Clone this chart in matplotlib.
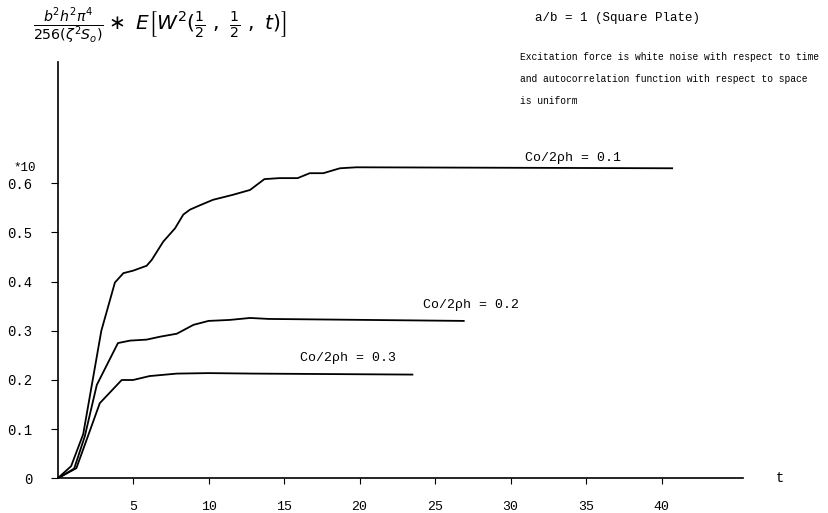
import matplotlib
matplotlib.use("Agg")
import matplotlib.pyplot as plt

# Data
t_01 = [0, 0.9, 1.7, 2.9, 3.8, 4.36, 5.0, 5.9, 6.24, 7.0, 7.78, 8.33, 8.77, 9.44,
        10.3, 11.6, 12.75, 13.7, 14.7, 15.9, 16.7, 17.6, 18.7, 19.8, 40.7]
v_01 = [0, 0.025, 0.09, 0.30, 0.398, 0.417, 0.422, 0.432, 0.444, 0.481, 0.508, 0.536,
        0.546, 0.555, 0.566, 0.576, 0.586, 0.608, 0.61, 0.61, 0.62, 0.62, 0.63, 0.632, 0.63]

t_02 = [0, 1.1, 1.8, 2.6, 4.0, 4.8, 5.9, 6.8, 7.9, 9.0, 10.0, 11.4, 12.75, 14.0, 26.9]
v_02 = [0, 0.02, 0.085, 0.19, 0.275, 0.28, 0.282, 0.288, 0.294, 0.312, 0.32, 0.322,
        0.326, 0.324, 0.32]

t_03 = [0, 1.25, 2.8, 4.25, 5.0, 6.1, 7.9, 10.0, 13.0, 23.5]
v_03 = [0, 0.021, 0.153, 0.2, 0.2, 0.208, 0.213, 0.214, 0.213, 0.211]

x_ticks = [5, 10, 15, 20, 25, 30, 35, 40]
y_ticks = [0, 0.1, 0.2, 0.3, 0.4, 0.5, 0.6]
y_tick_labels = ["0", "0.1", "0.2", "0.3", "0.4", "0.5", "0.6"]
curve_labels = ["Co/2ρh = 0.1", "Co/2ρh = 0.2", "Co/2ρh = 0.3"]

mono = ["Liberation Mono", "DejaVu Sans Mono"]
W, H = 829, 513

fig = plt.figure(figsize=(8.29, 5.13), dpi=100)
ax = fig.add_axes([0.0694, 0.0673, 0.827, 0.812])

for t, v in [(t_01, v_01), (t_02, v_02), (t_03, v_03)]:
    ax.plot(t, v, color="black", lw=1.3, solid_joinstyle="round")

ax.set_xlim(0, 45.4)
ax.set_ylim(0, 0.846)
for s in ["top", "right"]:
    ax.spines[s].set_visible(False)
for s in ["left", "bottom"]:
    ax.spines[s].set_linewidth(1.2)

ax.set_xticks(x_ticks)
ax.set_xticklabels([str(x) for x in x_ticks], fontfamily=mono, fontsize=9.5)
ax.set_yticks(y_ticks)
ax.set_yticklabels(y_tick_labels, fontfamily=mono, fontsize=10)
ax.tick_params(axis="x", direction="out", length=4, pad=12)
ax.tick_params(axis="y", direction="out", length=5, pad=13)


def ftext(x, y, s, **kw):
    fig.text(x / W, 1 - y / H, s, **kw)


# curve annotations
ftext(525, 158, curve_labels[0], fontfamily=mono, fontsize=9.5, va="center", ha="left")
ftext(423, 305, curve_labels[1], fontfamily=mono, fontsize=9.5, va="center", ha="left")
ftext(300, 358, curve_labels[2], fontfamily=mono, fontsize=9.5, va="center", ha="left")

ftext(780, 478, "t", fontfamily=mono, fontsize=10, va="center", ha="center")
ftext(13, 168, "*10", fontfamily=mono, fontsize=9, va="center", ha="left")

ftext(535, 18, "a/b = 1 (Square Plate)", fontfamily=mono, fontsize=9,
      va="center", ha="left")
ftext(520, 57, "Excitation force is white noise with respect to time",
      fontfamily=mono, fontsize=6.9, va="center", ha="left")
ftext(520, 79, "and autocorrelation function with respect to space",
      fontfamily=mono, fontsize=6.9, va="center", ha="left")
ftext(520, 101, "is uniform", fontfamily=mono, fontsize=6.9, va="center", ha="left")

ftext(33, 27,
      r"$\frac{b^2h^2\pi^4}{256(\zeta^2 S_o)}\ast\ E\left[W^2(\frac{1}{2}\ ,\ \frac{1}{2}\ ,\ t)\right]$",
      fontsize=14.5, va="center", ha="left")

fig.savefig("out.png", dpi=100)
